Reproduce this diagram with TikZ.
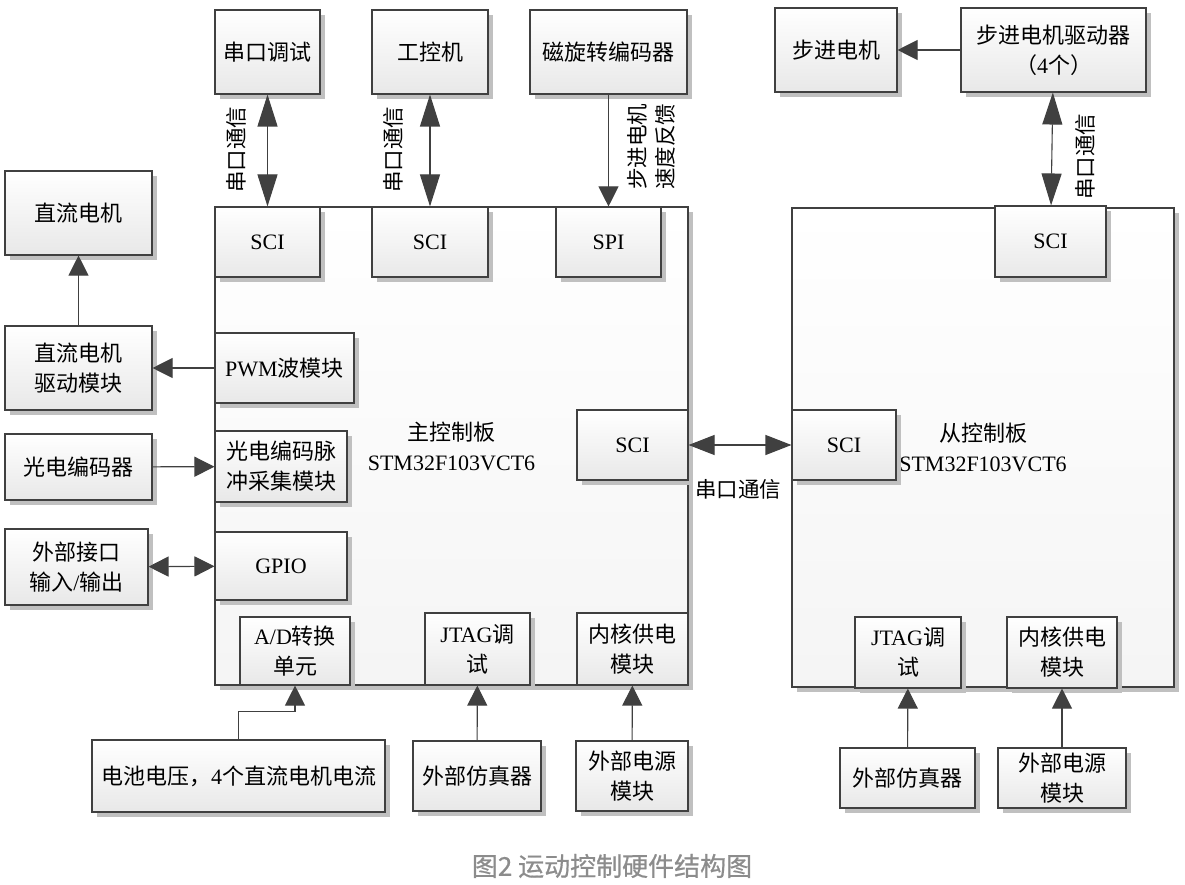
\documentclass[tikz,border=0pt]{standalone}
\usepackage{fontspec}
\setmainfont{Liberation Serif}
\newfontfamily\zhfont{Noto Sans CJK SC}
\newfontfamily\capfont{Noto Sans CJK SC}[FakeBold=0.6]
\newcommand{\zh}[1]{{\zhfont #1}}
\usetikzlibrary{arrows.meta,shadows,positioning}
\definecolor{linegray}{RGB}{64,64,64}
\definecolor{shadegray}{RGB}{192,192,192}
\definecolor{capgray}{RGB}{140,140,140}

\begin{document}
\begin{tikzpicture}[x=1pt, y=-1pt,
    block/.style={rectangle, draw=linegray, line width=1.1pt,
        top color=white, bottom color=black!9,
        general shadow={fill=shadegray, shadow xshift=5pt, shadow yshift=-5pt},
        font=\fontsize{22}{30}\selectfont, align=center, inner sep=2pt},
    board/.style={block, bottom color=black!4},
    sz/.style 2 args={minimum width=#1pt, minimum height=#2pt},
    lbl/.style={font=\fontsize{21.5}{28}\selectfont, align=center, inner sep=0pt},
    arr/.style={-{Triangle[length=20pt, width=20pt]}, line width=1.1pt, linegray},
    dblarr/.style={{Triangle[length=#1, width=20pt]}-{Triangle[length=#1, width=20pt]},
        line width=1.1pt, linegray},
    dblarr/.default=32pt
]
    \useasboundingbox (0,0) rectangle (1185,885);
    % control boards
    \node[board, sz={473}{478}] (mainb) at (451.5,446) {\zh{主控制板}\\STM32F103VCT6};
    \node[board, sz={382}{479}] (slaveb) at (983,447.5) {\zh{从控制板}\\STM32F103VCT6};
    % top row
    \node[block, sz={105}{84}] (dbg) at (267.5,52) {\zh{串口调试}};
    \node[block, sz={116}{84}] (ipc) at (430,52) {\zh{工控机}};
    \node[block, sz={157}{84}] (mag) at (608.5,52) {\zh{磁旋转编码器}};
    \node[block, sz={122}{84}] (stepm) at (836,50) {\zh{步进电机}};
    \node[block, sz={185}{84}] (drv) at (1053.5,50) {\zh{步进电机驱动器}\\\zh{（}4\zh{个）}};
    % main board modules
    \node[block, sz={105}{70}] (sciA) at (267.5,242) {SCI};
    \node[block, sz={116}{70}] (sciB) at (430,242) {SCI};
    \node[block, sz={105}{70}] (spi) at (608.5,242) {SPI};
    \node[block, sz={139}{70}] (pwm) at (284.5,368) {PWM\zh{波模块}};
    \node[block, sz={132}{71}] (pcap) at (281,466.5) {\zh{光电编码脉}\\\zh{冲采集模块}};
    \node[block, sz={132}{68}] (gpio) at (281,566) {GPIO};
    \node[block, sz={111}{70}] (sciM) at (632.5,445) {SCI};
    \node[block, sz={110}{68}] (ad) at (295,651) {A/D\zh{转换}\\\zh{单元}};
    \node[block, sz={105}{72}] (jtagA) at (477.5,649) {JTAG\zh{调}\\\zh{试}};
    \node[block, sz={111}{72}] (pwrA) at (632.5,649) {\zh{内核供电}\\\zh{模块}};
    % left side
    \node[block, sz={147}{84}] (dcm) at (78.5,213) {\zh{直流电机}};
    \node[block, sz={147}{84}] (dcdrv) at (78.5,368) {\zh{直流电机}\\\zh{驱动模块}};
    \node[block, sz={147}{66}] (penc) at (78.5,467) {\zh{光电编码器}};
    \node[block, sz={143}{76}] (io) at (76.5,567) {\zh{外部接口}\\\zh{输入}/\zh{输出}};
    % bottom row
    \node[block, sz={293}{72}] (bat) at (238.5,776) {\zh{电池电压，}4\zh{个直流电机电流}};
    \node[block, sz={128}{70}] (emuA) at (477,776) {\zh{外部仿真器}};
    \node[block, sz={112}{70}] (extA) at (632,776) {\zh{外部电源}\\\zh{模块}};
    % slave board modules
    \node[block, sz={111}{71}] (sciS) at (1050.5,241.5) {SCI};
    \node[block, sz={104}{70}] (sciL) at (844,445) {SCI};
    \node[block, sz={106}{71}] (jtagB) at (908,652.5) {JTAG\zh{调}\\\zh{试}};
    \node[block, sz={110}{71}] (pwrB) at (1062,652.5) {\zh{内核供电}\\\zh{模块}};
    \node[block, sz={135}{60}] (emuB) at (907.5,778) {\zh{外部仿真器}};
    \node[block, sz={128}{60}] (extB) at (1062,778) {\zh{外部电源}\\\zh{模块}};
    % connections
    \draw[dblarr] (dbg) -- (sciA);
    \draw[dblarr] (ipc) -- (sciB);
    \draw[arr] (mag) -- (spi);
    \draw[dblarr] (drv) -- (sciS);
    \draw[arr] (drv) -- (stepm);
    \draw[arr] (dcdrv) -- (dcm);
    \draw[arr] (pwm) -- (dcdrv);
    \draw[arr] (penc) -- (pcap);
    \draw[dblarr=20pt] (io) -- (gpio);
    \draw[dblarr=26pt] (sciM) -- (sciL);
    \draw[arr] (bat.north) -- ++(0,-28) -| (ad.south);
    \draw[arr] (emuA) -- (jtagA);
    \draw[arr] (extA) -- (pwrA);
    \draw[arr] (emuB) -- (jtagB);
    \draw[arr] (extB) -- (pwrB);
    % link labels
    \node[lbl, rotate=90] (l1) at (236,150) {\zh{串口通信}};
    \node[lbl, rotate=90] (l2) at (393,150) {\zh{串口通信}};
    \node[lbl, rotate=90] (l3) at (651,147) {\zh{步进电机}\\\zh{速度反馈}};
    \node[lbl, rotate=90] (l4) at (1085,157) {\zh{串口通信}};
    \node[lbl] (l5) at (738,489) {\zh{串口通信}};
    \node[font=\capfont\fontsize{26}{30}\selectfont, capgray] (cap) at (612,866) {图2 运动控制硬件结构图};
\end{tikzpicture}
\end{document}
